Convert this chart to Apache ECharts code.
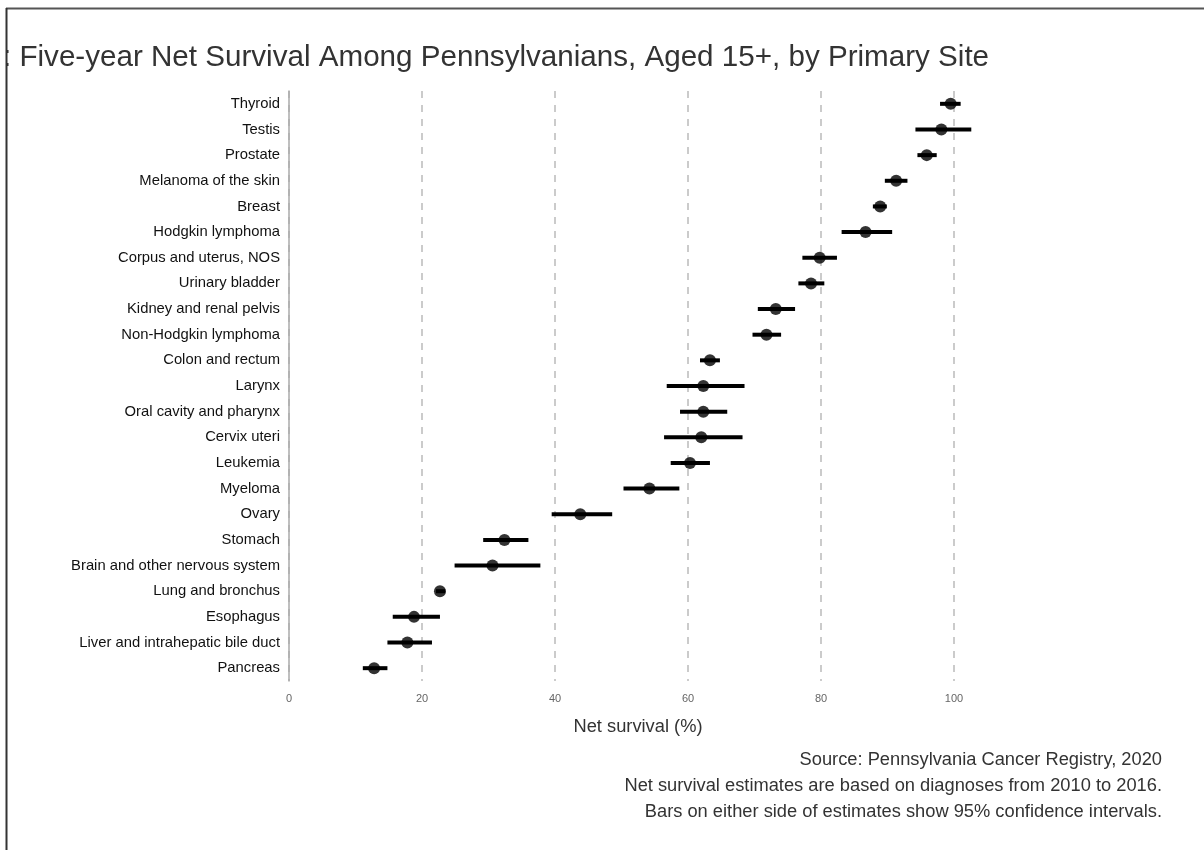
<!DOCTYPE html>
<html>
<head>
<meta charset="utf-8">
<script src="https://cdn.jsdelivr.net/npm/echarts@6/dist/echarts.min.js"></script>
<style>
  html, body { margin: 0; padding: 0; background: #fff; }
  #chart { width: 1204px; height: 850px; }
</style>
</head>
<body>
<div id="chart"></div>
<script>
// Primary sites, top to bottom
const sites = [
  'Thyroid', 'Testis', 'Prostate', 'Melanoma of the skin', 'Breast',
  'Hodgkin lymphoma', 'Corpus and uterus, NOS', 'Urinary bladder',
  'Kidney and renal pelvis', 'Non-Hodgkin lymphoma', 'Colon and rectum',
  'Larynx', 'Oral cavity and pharynx', 'Cervix uteri', 'Leukemia',
  'Myeloma', 'Ovary', 'Stomach', 'Brain and other nervous system',
  'Lung and bronchus', 'Esophagus', 'Liver and intrahepatic bile duct', 'Pancreas'
];
// Five-year net survival estimate (%)
const netSurvival = [
  99.5, 98.1, 95.9, 91.3, 88.9, 86.7, 79.8, 78.5, 73.2, 71.8, 63.3,
  62.3, 62.3, 62.0, 60.3, 54.2, 43.8, 32.4, 30.6, 22.7, 18.8, 17.8, 12.8
];
// 95% confidence interval bounds (%)
const ciLower = [
  97.9, 94.2, 94.5, 89.6, 87.8, 83.1, 77.2, 76.6, 70.5, 69.7, 61.8,
  56.8, 58.8, 56.4, 57.4, 50.3, 39.5, 29.2, 24.9, 22.1, 15.6, 14.8, 11.1
];
const ciUpper = [
  101.0, 102.6, 97.4, 93.0, 89.9, 90.7, 82.4, 80.5, 76.1, 74.0, 64.8,
  68.5, 65.9, 68.2, 63.3, 58.7, 48.6, 36.0, 37.8, 23.5, 22.7, 21.5, 14.8
];
const xTicks = [0, 20, 40, 60, 80, 100];

const titleText = ': Five-year Net Survival Among Pennsylvanians, Aged 15+, by Primary Site';
const notes = [
  'Source: Pennsylvania Cancer Registry, 2020',
  'Net survival estimates are based on diagnoses from 2010 to 2016.',
  'Bars on either side of estimates show 95% confidence intervals.'
];

const FONT = '"Liberation Sans", Arial, sans-serif';
const chart = echarts.init(document.getElementById('chart'), null, { renderer: 'canvas' });

const ciData = sites.map((s, i) => [ciLower[i], ciUpper[i], i]);
const pointData = sites.map((s, i) => [netSurvival[i], i]);

chart.setOption({
  animation: false,
  backgroundColor: '#ffffff',
  grid: { left: 289, right: 250, top: 91, bottom: 169, containLabel: false },
  xAxis: {
    type: 'value',
    min: 0,
    max: 100,
    interval: 20,
    axisLine: { show: false },
    axisTick: { show: false },
    axisLabel: {
      color: '#666', fontSize: 11, fontFamily: FONT, margin: 12,
      formatter: v => xTicks.includes(v) ? String(v) : ''
    },
    splitLine: {
      show: true,
      lineStyle: { color: '#bbbbbb', width: 1.5, type: [7, 7] }
    }
  },
  yAxis: {
    type: 'category',
    data: sites,
    inverse: true,
    axisLine: { show: true, lineStyle: { color: '#aaaaaa', width: 1.5 } },
    axisTick: { show: false },
    axisLabel: { color: '#111', fontSize: 14.8, fontFamily: FONT, margin: 9 },
    splitLine: { show: false }
  },
  series: [
    {
      type: 'custom',
      name: 'CI',
      data: ciData,
      encode: { x: [0, 1], y: 2 },
      renderItem: function (params, api) {
        const p0 = api.coord([api.value(0), api.value(2)]);
        const p1 = api.coord([api.value(1), api.value(2)]);
        return {
          type: 'line',
          shape: { x1: p0[0], y1: p0[1], x2: p1[0], y2: p1[1] },
          style: { stroke: '#000', lineWidth: 4 }
        };
      },
      z: 2
    },
    {
      type: 'scatter',
      name: 'Net survival',
      data: pointData,
      symbol: 'circle',
      symbolSize: 12,
      itemStyle: { color: '#000' },
      z: 3
    }
  ],
  graphic: [
    {
      type: 'text', left: 3, top: 43, z: 10,
      style: { text: titleText, font: '29.6px ' + FONT, fill: '#333' }
    },
    {
      type: 'rect', shape: { x: 0, y: 0, width: 6, height: 850 }, z: 20,
      style: { fill: '#fff' }
    },
    {
      type: 'line', shape: { x1: 6, y1: 8.5, x2: 1204, y2: 8.5 }, z: 21,
      style: { stroke: '#555', lineWidth: 2 }
    },
    {
      type: 'line', shape: { x1: 6.5, y1: 8, x2: 6.5, y2: 850 }, z: 21,
      style: { stroke: '#333', lineWidth: 2 }
    },
    {
      type: 'text', x: 638, y: 727, z: 10,
      style: { text: 'Net survival (%)', font: '18.3px ' + FONT, fill: '#333', align: 'center', verticalAlign: 'middle' }
    },
    ...notes.map((t, i) => ({
      type: 'text', x: 1162, y: 760 + i * 26, z: 10,
      style: { text: t, font: '18.3px ' + FONT, fill: '#333', align: 'right', verticalAlign: 'middle' }
    }))
  ]
});
</script>
</body>
</html>
